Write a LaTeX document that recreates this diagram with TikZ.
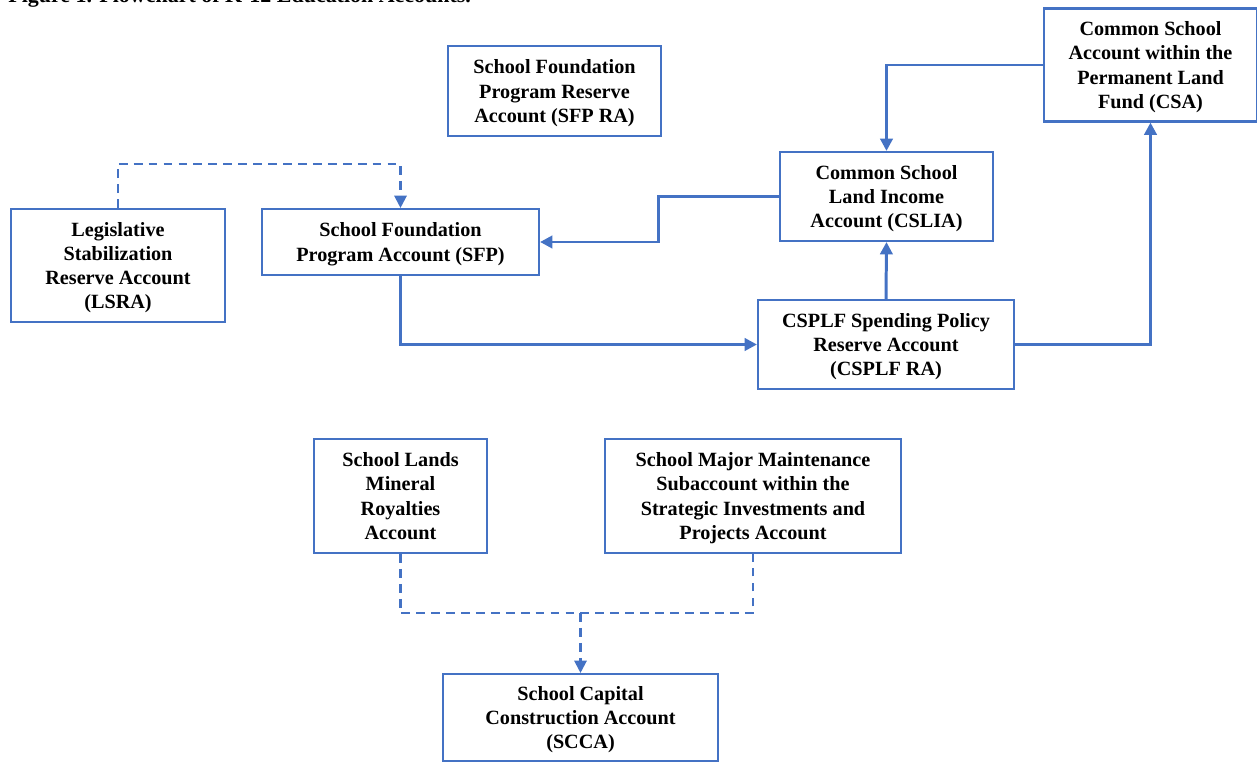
\documentclass[tikz,border=0pt]{standalone}
\usepackage{fontspec}
\setmainfont{Liberation Serif}
\usepackage{xcolor}
\usetikzlibrary{arrows.meta,positioning}
\definecolor{acctblue}{HTML}{4472C4}
\tikzset{
  >={Triangle[length=7pt,width=7pt]},
  line cap=butt,
  line join=miter,
  acctbox/.style={draw=acctblue, line width=1.2pt, fill=white, inner sep=0pt,
    text depth=-0.3pt, align=center, font=\fontsize{11.5}{13.7}\selectfont\bfseries},
  flow/.style={->, draw=acctblue, line width=1.7pt},
  dashline/.style={draw=acctblue, line width=1.2pt, dash pattern=on 5pt off 3.5pt},
  dashflow/.style={dashline, ->}
}
\begin{document}
\begin{tikzpicture}[x=0.02cm, y=-0.02cm]
  \useasboundingbox (0,0) rectangle (1257,763);

  % title, cut by the top edge
  \node[anchor=base west, inner sep=0pt, font=\fontsize{12.5}{14}\selectfont\bfseries]
    (title) at (8,3) {Figure 1. Flowchart of K-12 Education Accounts.};

  % accounts
  \node[acctbox, minimum width=4.26cm, minimum height=1.80cm] (sfpra) at (554.5,91)
    {School Foundation\\Program Reserve\\Account (SFP RA)};
  \node[acctbox, minimum width=4.26cm, minimum height=2.26cm] (csa) at (1150.5,65)
    {Common School\\Account within the\\Permanent Land\\Fund (CSA)};
  \node[acctbox, minimum width=4.26cm, minimum height=1.78cm] (cslia) at (886.5,196.5)
    {Common School\\Land Income\\Account (CSLIA)};
  \node[acctbox, minimum width=4.28cm, minimum height=2.26cm] (lsra) at (118,265.5)
    {Legislative\\Stabilization\\Reserve Account\\(LSRA)};
  \node[acctbox, minimum width=5.54cm, minimum height=1.32cm] (sfp) at (400.5,242)
    {School Foundation\\Program Account (SFP)};
  \node[acctbox, minimum width=5.12cm, minimum height=1.78cm] (csplf) at (886,344.5)
    {CSPLF Spending Policy\\Reserve Account\\(CSPLF RA)};
  \node[acctbox, minimum width=3.46cm, minimum height=2.28cm] (slmra) at (400.5,496)
    {School Lands\\Mineral\\Royalties\\Account};
  \node[acctbox, minimum width=5.92cm, minimum height=2.28cm] (smm) at (753,496)
    {School Major Maintenance\\Subaccount within the\\Strategic Investments and\\Projects Account};
  \node[acctbox, minimum width=5.50cm, minimum height=1.74cm] (scca) at (580.5,717.5)
    {School Capital\\Construction Account\\(SCCA)};

  % flows
  \draw[dashflow] (lsra.north) -- ++(0,-44) -| (sfp.north);
  \draw[flow] (cslia.west) -- ++(-120,0) |- (sfp.east);
  \draw[flow] (sfp.south) |- (csplf.west);
  \draw[flow] (csplf.north) -- (cslia.south);
  \draw[flow] (csplf.east) -| (csa.south);
  \draw[flow] (csa.west) -| (cslia.north);

  \coordinate (join) at (580.5,613);
  \draw[dashline] (slmra.south) |- (join) -| (smm.south);
  \draw[dashflow] (join) -- (scca.north);
\end{tikzpicture}
\end{document}
